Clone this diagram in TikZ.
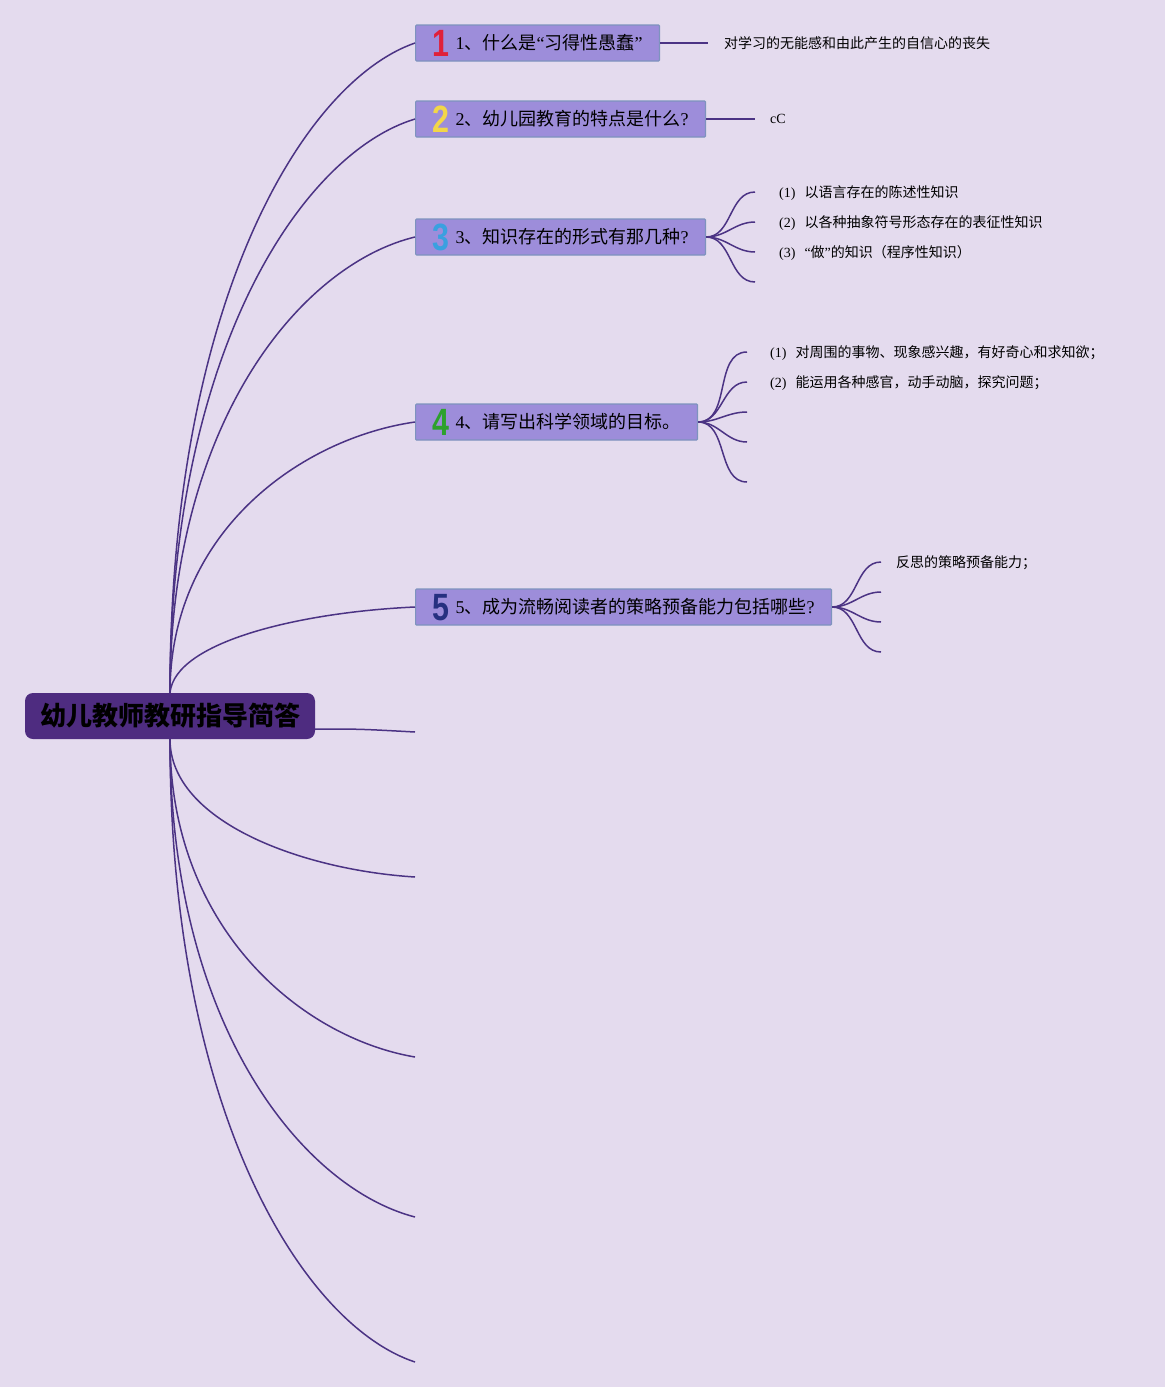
\documentclass[tikz,border=0pt]{standalone}
\usepackage{fontspec}
\usepackage{graphicx}
\usepackage{xcolor}
\usepackage{tikz}
\usetikzlibrary{positioning, calc}
\setmainfont{Noto Sans CJK SC}
\newfontfamily\lat{Liberation Serif}
\newfontfamily\iconfont{Liberation Sans}

\definecolor{bgcol}{HTML}{E4DBEE}
\definecolor{boxfill}{HTML}{9D8DDA}
\definecolor{boxdraw}{HTML}{7E93BE}
\definecolor{rootfill}{HTML}{4E2C80}
\definecolor{linecol}{HTML}{4B3384}
\definecolor{numred}{HTML}{E0203A}
\definecolor{numyellow}{HTML}{F2D648}
\definecolor{numblue}{HTML}{3AA0E0}
\definecolor{numgreen}{HTML}{2DA12D}
\definecolor{numnavy}{HTML}{263080}

\newcommand{\numicon}[2]{\smash{\raisebox{-7pt}{\scalebox{0.8}[1]{\iconfont\bfseries\fontsize{38}{38}\selectfont\color{#1}#2}}}\hspace{6pt}}
\newcommand{\itemno}[1]{{\lat (#1)}\hspace{9pt}}

\begin{document}
\begin{tikzpicture}[x=1pt, y=-1pt]
    % Define styles
    \tikzstyle{rootbox} = [rectangle, rounded corners=8pt, fill=rootfill, draw=none, minimum width=290pt, minimum height=46pt, align=center, font=\fontsize{26}{26}\selectfont\bfseries]
    \tikzstyle{branchbox} = [rectangle, rounded corners=1pt, fill=boxfill, draw=boxdraw, line width=1.2pt, minimum height=36pt, inner xsep=17pt, anchor=west, font=\fontsize{18}{18}\selectfont]
    \tikzstyle{leaf} = [anchor=west, inner sep=0pt, font=\fontsize{14}{14}\selectfont]
    \tikzstyle{branchline} = [draw=linecol, line width=1.5pt]
    \tikzstyle{leafline} = [draw=linecol, line width=1.5pt]

    % Background and margins
    \fill[bgcol] (0,0) rectangle (1165,1387);
    \useasboundingbox (0,0) rectangle (1165,1387);

    % Root
    \node[rootbox] (root) at (170,716) {幼儿教师教研指导简答};

    % Main branches
    \node[branchbox] (b1) at (415,43) {\numicon{numred}{1}{\lat 1}、什么是{\lat “}习得性愚蠢{\lat ”}};
    \node[branchbox] (b2) at (415,119) {\numicon{numyellow}{2}{\lat 2}、幼儿园教育的特点是什么{\lat ?}};
    \node[branchbox] (b3) at (415,237) {\numicon{numblue}{3}{\lat 3}、知识存在的形式有那几种{\lat ?}};
    \node[branchbox] (b4) at (415,422) {\numicon{numgreen}{4}{\lat 4}、请写出科学领域的目标。};
    \node[branchbox] (b5) at (415,607) {\numicon{numnavy}{5}{\lat 5}、成为流畅阅读者的策略预备能力包括哪些{\lat ?}};

    % Empty branch ends
    \coordinate (e6) at (415,732);
    \coordinate (e7) at (415,877);
    \coordinate (e8) at (415,1057);
    \coordinate (e9) at (415,1217);
    \coordinate (e10) at (415,1362);

    % Root to branches
    \draw[branchline] (root.north) .. controls (170,303) and (303,82) .. (b1.west);
    \draw[branchline] (root.north) .. controls (170,349) and (303,153) .. (b2.west);
    \draw[branchline] (root.north) .. controls (170,419) and (303,264) .. (b3.west);
    \draw[branchline] (root.north) .. controls (170,530) and (303,438) .. (b4.west);
    \draw[branchline] (root.north) .. controls (175,641) and (303,612) .. (b5.west);
    \draw[branchline] ([yshift=-13pt]root.east) .. controls (360,729) .. (e6);
    \draw[branchline] (root.south) .. controls (170,822) and (303,870) .. (e7);
    \draw[branchline] (root.south) .. controls (170,930) and (303,1038) .. (e8);
    \draw[branchline] (root.south) .. controls (170,1026) and (303,1188) .. (e9);
    \draw[branchline] (root.south) .. controls (170,1113) and (303,1325) .. (e10);

    % Branch 1
    \coordinate (l1) at (708,43);
    \node[leaf] (t1) at (724,43) {对学习的无能感和由此产生的自信心的丧失};
    \draw[leafline] (b1.east) -- (l1);

    % Branch 2
    \coordinate (l2) at (755,119);
    \node[leaf] (t2) at (770,119) {\lat cC};
    \draw[leafline] (b2.east) -- (l2);

    % Branch 3
    \coordinate (l31) at (755,192);
    \coordinate (l32) at (755,222);
    \coordinate (l33) at (755,252);
    \coordinate (l34) at (755,282);
    \node[leaf] (t31) at (779,193) {\itemno{1}以语言存在的陈述性知识};
    \node[leaf] (t32) at (779,223) {\itemno{2}以各种抽象符号形态存在的表征性知识};
    \node[leaf] (t33) at (779,253) {\itemno{3}{\lat “}做{\lat ”}的知识（程序性知识）};
    \foreach \e in {l31,l32,l33,l34}
        \draw[leafline] (b3.east) to[out=0, in=180] (\e);

    % Branch 4
    \coordinate (l41) at (747,352);
    \coordinate (l42) at (747,382);
    \coordinate (l43) at (747,412);
    \coordinate (l44) at (747,442);
    \coordinate (l45) at (747,482);
    \node[leaf] (t41) at (770,353) {\itemno{1}对周围的事物、现象感兴趣，有好奇心和求知欲；};
    \node[leaf] (t42) at (770,383) {\itemno{2}能运用各种感官，动手动脑，探究问题；};
    \foreach \e in {l41,l42,l43,l44,l45}
        \draw[leafline] (b4.east) to[out=0, in=180] (\e);

    % Branch 5
    \coordinate (l51) at (881,562);
    \coordinate (l52) at (881,592);
    \coordinate (l53) at (881,622);
    \coordinate (l54) at (881,652);
    \node[leaf] (t51) at (896,563) {反思的策略预备能力；};
    \foreach \e in {l51,l52,l53,l54}
        \draw[leafline] (b5.east) to[out=0, in=180] (\e);

\end{tikzpicture}
\end{document}
